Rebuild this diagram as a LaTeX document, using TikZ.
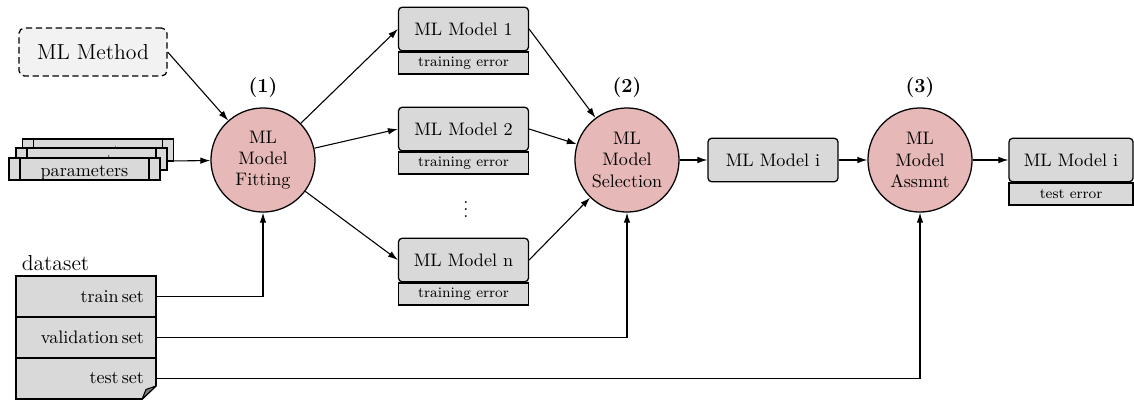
\documentclass[tikz,border=0pt]{standalone}
\usepackage{fontspec}
\usetikzlibrary{arrows.meta}
\definecolor{boxgray}{RGB}{217,217,217}
\definecolor{lightbox}{RGB}{242,242,242}
\definecolor{procpink}{RGB}{230,184,183}
\newcommand\fsz[2]{\fontsize{#1}{#2}\selectfont}
\tikzset{
  box/.style={draw, fill=boxgray, line width=0.7pt, inner sep=0pt, font=\fsz{10}{12}},
  head/.style={box, rounded corners=2pt, minimum width=71.8pt, minimum height=24pt},
  foot/.style={box, minimum width=71.8pt, minimum height=12.2pt, font=\fsz{8}{9.5}},
  proc/.style={circle, draw, fill=procpink, line width=0.7pt, minimum size=57.5pt,
    inner sep=0pt, align=center, font=\fsz{10}{11.7}},
  steplabel/.style={font=\fsz{11}{13}\bfseries},
  datarow/.style={box, minimum height=22.65pt, inner xsep=6.6pt, text width=64.1pt, align=right},
  parambox/.style={box, minimum width=83.4pt, minimum height=12.2pt,
    text height=7.8pt, text depth=0pt,
    path picture={
      \draw[line width=0.7pt]
        ([xshift=6.1pt]path picture bounding box.north west) --
        ([xshift=6.1pt]path picture bounding box.south west)
        ([xshift=-6.1pt]path picture bounding box.north east) --
        ([xshift=-6.1pt]path picture bounding box.south east);
    }},
  arr/.style={-{Latex[length=5.5pt,width=3.6pt]}, line width=0.6pt},
}
\begin{document}
\begin{tikzpicture}[x=0.5525pt, y=-0.5525pt]
\useasboundingbox (0,0) rectangle (1134,401);

% input method
\node[draw, dashed, dash pattern=on 3.5pt off 2pt, rounded corners=3pt, fill=lightbox,
  line width=0.7pt, minimum width=81.8pt, minimum height=26.5pt, font=\fsz{12}{14}]
  (method) at (93,52) {ML Method};

% processing steps
\node[proc] (c1) at (263,160) {ML\\Model\\Fitting};
\node[proc] (c2) at (627,160) {ML\\Model\\Selection};
\node[proc] (c3) at (920,160) {ML\\Model\\Assmnt};
\node[steplabel] (l1) at (263,88) {(1)};
\node[steplabel] (l2) at (627,88) {(2)};
\node[steplabel] (l3) at (920,88) {(3)};

% parameter stack (arrow first, so the back sheet hides its start)
\coordinate (pout) at (167,161);
\draw[arr] (pout) -- (c1);
\node[parambox] (p3) at (98,150) {parameters};
\node[parambox] (p2) at (91.5,159) {parameters};
\node[parambox] (p1) at (84.5,169) {parameters};

% candidate models
\node[head] (m1) at (463.5,29) {ML Model 1};
\node[foot, anchor=north] (m1f) at (m1.south) {training error};
\node[head] (m2) at (463.5,129) {ML Model 2};
\node[foot, anchor=north] (m2f) at (m2.south) {training error};
\node[head] (mn) at (463.5,260) {ML Model n};
\node[foot, anchor=north] (mnf) at (mn.south) {training error};
\node[font=\fsz{10}{12}] (dots) at (466,204) {$\vdots$};

% selected model
\node[head] (mi) at (773,160) {ML Model i};
\node[head, minimum width=68.5pt] (ri) at (1071,160) {ML Model i};
\node[foot, minimum width=68.5pt, anchor=north] (rif) at (ri.south) {test error};

% dataset
\node[font=\fsz{12}{14}] (dlabel) at (55.5,263) {dataset};
\node[datarow] (train) at (86,296.5) {train\,set};
\node[datarow] (valid) at (86,337.5) {validation\,set};
\node[datarow] (test) at (86,378.5) {test\,set};
% folded corner of the data sheet
\fill[white] (157.5,385) -- (157.5,401) -- (141,401) -- cycle;
\draw[line width=0.7pt, line join=round] (156,378) -- (156,386) -- (142,399.3) -- (130,399.3);
\draw[line width=0.6pt, fill=gray, line join=round] (156,386) -- (142,399.3) -- (146,389.5) -- cycle;

% connectors
\draw[arr] (method.east) -- (c1);
\draw[arr] (c1) -- (m1.west);
\draw[arr] (c1) -- (m2.west);
\draw[arr] (c1) -- (mn.west);
\draw[arr] (m1.east) -- (c2);
\draw[arr] (m2.east) -- (c2);
\draw[arr] (mn.east) -- (c2);
\draw[arr] (c2) -- (mi);
\draw[arr] (mi) -- (c3);
\draw[arr] (c3) -- (ri);
\draw[arr] (train.east) -| (c1);
\draw[arr] (valid.east) -| (c2);
\draw[arr] (test.east) -| (c3);
\end{tikzpicture}
\end{document}
